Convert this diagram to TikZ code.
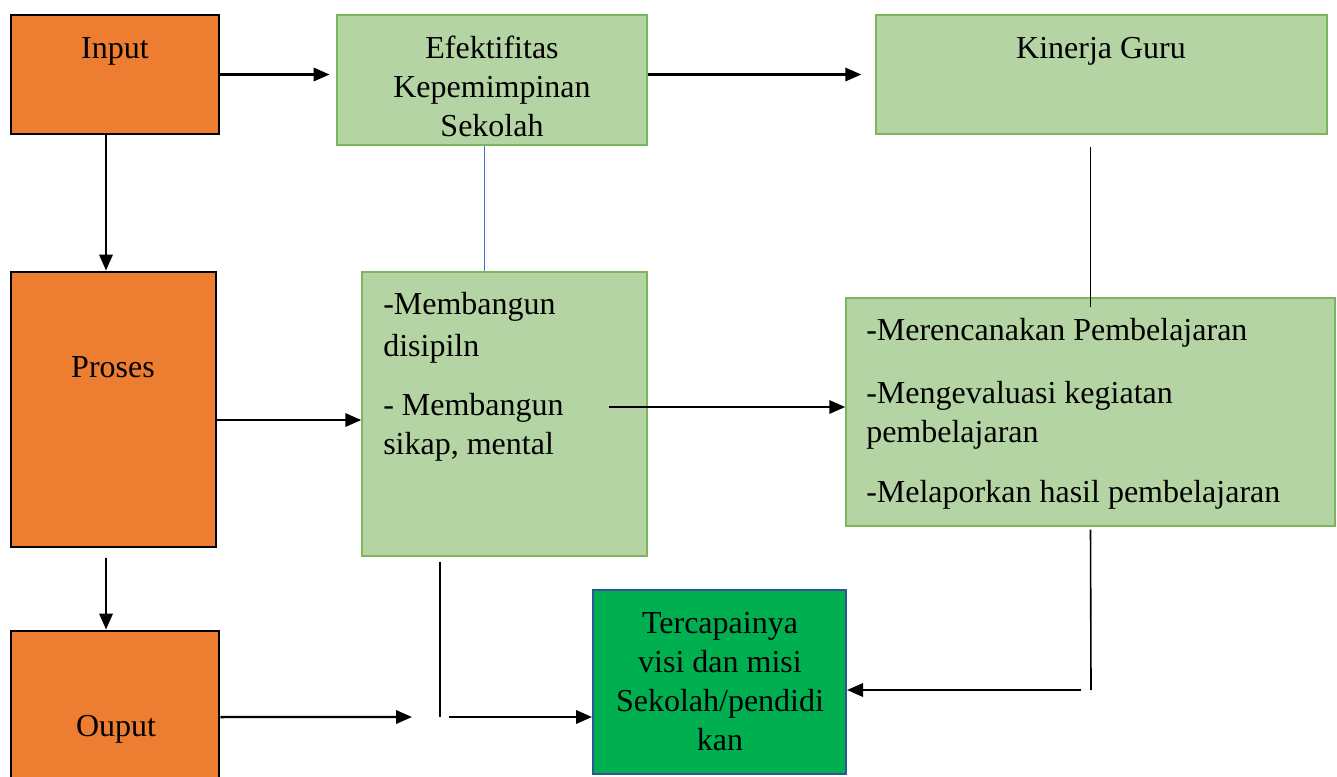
\documentclass[tikz,border=0pt]{standalone}
\usepackage{fontspec}
\setmainfont{Liberation Serif}
\usetikzlibrary{arrows.meta}
\definecolor{orng}{HTML}{ED7D31}
\definecolor{lgreen}{HTML}{B4D5A3}
\definecolor{lgedge}{HTML}{7DB65A}
\definecolor{dgreen}{HTML}{00B050}
\definecolor{dblue}{HTML}{2F5597}
\definecolor{lblue}{HTML}{4472C4}

\begin{document}
\begin{tikzpicture}[x=0.75pt,y=-0.75pt,
  obox/.style={draw=black,line width=2.2pt,fill=orng,inner sep=0mm},
  gbox/.style={draw=lgedge,line width=1.1pt,fill=lgreen,inner sep=0mm},
  tbox/.style={draw=dblue,line width=1.5pt,fill=dgreen,inner sep=0mm},
  txt/.style={inner sep=0mm,font=\fontsize{24}{29.25}\selectfont},
  arr/.style={line width=1.8pt,-{Triangle[length=12pt,width=10pt]}}]
\useasboundingbox (0,0) rectangle (1337,776);
% boxes
\node[obox,minimum width=156pt,minimum height=89.25pt] (In) at (115,74.5) {};
\node[gbox,minimum width=232.5pt,minimum height=97.5pt] (Ef) at (492,80) {};
\node[gbox,minimum width=338.25pt,minimum height=89.25pt] (Ki) at (1101.5,74.5) {};
\node[obox,minimum width=153.75pt,minimum height=206.25pt] (Pr) at (113.5,409.5) {};
\node[gbox,minimum width=213.75pt,minimum height=213pt] (Mb) at (504.5,414) {};
\node[gbox,minimum width=366.75pt,minimum height=171pt] (Mr) at (1090.5,412) {};
\node[obox,minimum width=156pt,minimum height=110.25pt] (Ou) at (115,704.5) {};
\node[tbox,minimum width=189.75pt,minimum height=138pt] (Tv) at (719.5,682) {};
\node[txt] (In-t) at (115,51) {Input};
\node[txt,align=center] (Ef-t) at (492,86) {Efektifitas\\Kepemimpinan\\Sekolah};
\node[txt] (Ki-t) at (1101,51) {Kinerja Guru};
\node[txt] (Pr-t) at (113,367) {Proses};
\node[txt,align=left,anchor=north west] (Mb-t) at (383,292) {-Membangun\\[2pt]disipiln\\[15pt]- Membangun\\sikap, mental};
\node[txt,align=left,anchor=north west] (Mr-t) at (866,318) {-Merencanakan Pembelajaran\\[18pt]-Mengevaluasi kegiatan\\pembelajaran\\[16pt]-Melaporkan hasil pembelajaran};
\node[txt] (Ou-t) at (116,729) {Ouput};
\node[txt,align=center] (Tv-t) at (720,682) {Tercapainya\\visi dan misi\\Sekolah/pendidi\\kan};
% connectors
\coordinate (p1) at ([xshift=-29.25pt,yshift=5.25pt]Mb.east);
\coordinate (Gap) at (412,717);
\coordinate (Rc) at (1091,690);
\draw[arr,shorten >=5pt] (In.east) -- (In.east -| Ef.west);
\draw[arr] ([xshift=-6.75pt]In.south) -- ([xshift=-6.75pt]In.south |- Pr.north);
\draw[arr,shorten >=10.5pt] (Ef.east |- In.east) -- (Ki.west |- In.east);
\draw[lblue,line width=0.75pt] ([xshift=-6pt]Ef.south) -- ([xshift=-6pt]Ef.south |- Mb.north);
\draw[line width=0.9pt] ([yshift=-9pt]Ki.south -| Mr.north) -- ([yshift=-7.5pt]Mr.north);
\draw[arr] ([yshift=-7.9pt]Pr.east) -- ([yshift=-7.9pt]Pr.east -| Mb.west);
\draw[arr] (p1) -- (p1 -| Mr.west);
\draw[arr] ([xshift=-5.6pt,yshift=-7.5pt]Pr.south) -- ([xshift=-5.6pt]Pr.south |- Ou.north);
\draw[arr] ([yshift=-9.4pt]Ou.east) -- (Gap);
\draw[line width=0.9pt] ([xshift=-48.4pt,yshift=-3.75pt]Mb.south) -- ([xshift=-48.4pt]Mb.south |- Gap);
\draw[arr] ([xshift=27.75pt]Gap) -- (Gap -| Tv.west);
\draw[line width=1.2pt] ([yshift=-2.25pt]Mr.south) -- (Rc);
\draw[arr] ([xshift=-7.5pt]Rc) -- (Rc -| Tv.east);
\end{tikzpicture}
\end{document}
